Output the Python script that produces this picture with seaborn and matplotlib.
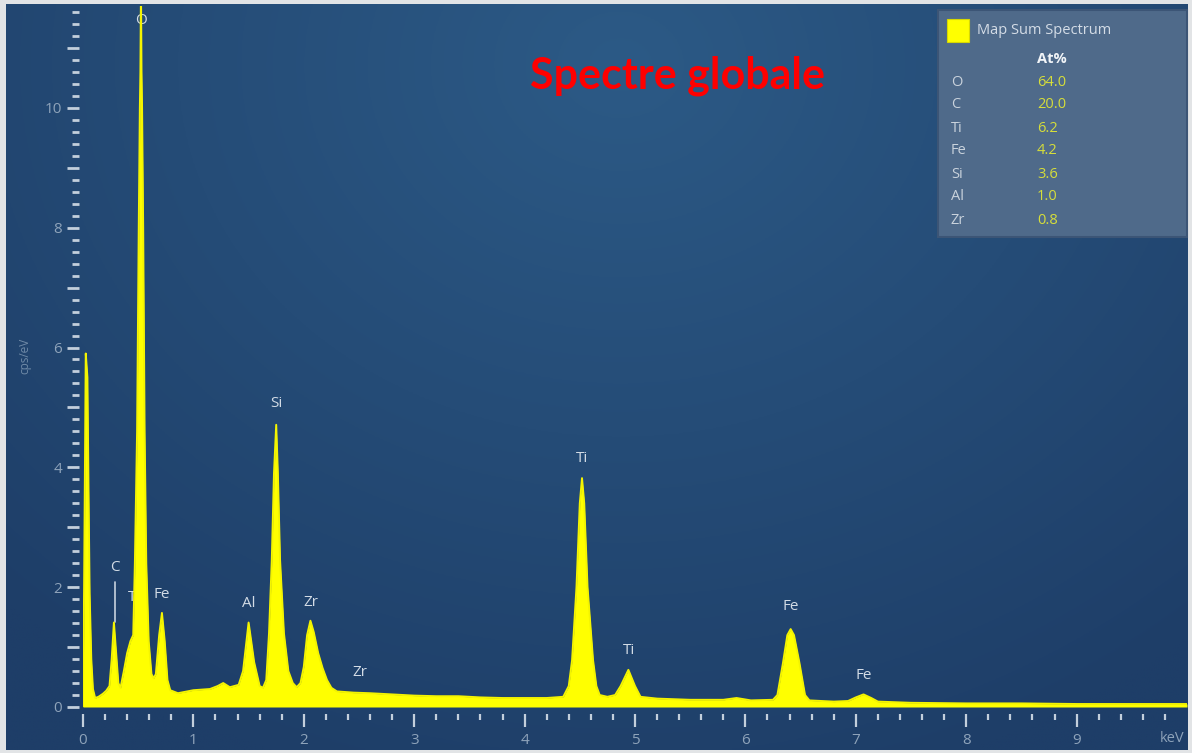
import numpy as np
import matplotlib
matplotlib.use("Agg")
import matplotlib.pyplot as plt
from matplotlib.patches import Rectangle
from matplotlib.ticker import FixedLocator, FuncFormatter
import seaborn as sns

# ---------------- data ----------------
energy_kev = [0.00, 0.01, 0.025, 0.04, 0.05, 0.06, 0.075, 0.09, 0.11, 0.14, 0.18, 0.21,
              0.24, 0.26, 0.28, 0.30, 0.32, 0.34, 0.37, 0.40, 0.43, 0.455, 0.47, 0.49,
              0.505, 0.515, 0.52, 0.525, 0.53, 0.535, 0.545, 0.558, 0.573, 0.595, 0.62,
              0.64, 0.66, 0.69, 0.715, 0.74, 0.765, 0.79, 0.86, 1.00, 1.15, 1.22, 1.27,
              1.33, 1.41, 1.45, 1.50, 1.55, 1.60, 1.63, 1.66, 1.685, 1.71, 1.73, 1.75,
              1.765, 1.785, 1.82, 1.86, 1.90, 1.935, 1.97, 2.00, 2.03, 2.06, 2.09, 2.13,
              2.17, 2.21, 2.25, 2.30, 2.45, 2.60, 2.80, 3.00, 3.20, 3.40, 3.60, 3.80,
              4.00, 4.20, 4.35, 4.40, 4.43, 4.47, 4.50, 4.52, 4.54, 4.57, 4.62, 4.65,
              4.68, 4.75, 4.82, 4.87, 4.94, 5.00, 5.05, 5.20, 5.50, 5.80, 5.92, 6.05,
              6.25, 6.29, 6.34, 6.38, 6.41, 6.44, 6.49, 6.54, 6.58, 6.80, 6.93, 7.00,
              7.07, 7.14, 7.20, 7.50, 8.00, 8.50, 9.00, 9.50, 10.00]
counts_cps_ev = [0.00, 2.0, 5.9, 5.5, 3.6, 1.9, 0.8, 0.30, 0.15, 0.17, 0.22, 0.27,
                 0.35, 0.80, 1.41, 0.90, 0.40, 0.32, 0.60, 0.90, 1.10, 1.20, 2.40, 4.60,
                 8.00, 10.0, 10.6, 12.0, 10.6, 10.0, 8.00, 4.60, 2.40, 1.10, 0.55,
                 0.48, 0.55, 1.20, 1.57, 1.10, 0.45, 0.28, 0.23, 0.28, 0.30, 0.35, 0.40,
                 0.33, 0.37, 0.60, 1.41, 0.75, 0.35, 0.32, 0.45, 1.23, 2.45, 3.90, 4.71,
                 3.90, 2.45, 1.23, 0.60, 0.40, 0.33, 0.40, 0.67, 1.20, 1.44, 1.25, 0.90,
                 0.65, 0.45, 0.32, 0.26, 0.24, 0.23, 0.21, 0.19, 0.18, 0.18, 0.16, 0.15,
                 0.15, 0.15, 0.17, 0.35, 0.78, 2.00, 3.40, 3.82, 3.40, 2.00, 0.78, 0.35,
                 0.20, 0.17, 0.20, 0.35, 0.62, 0.35, 0.17, 0.14, 0.12, 0.12, 0.15, 0.11,
                 0.12, 0.20, 0.73, 1.20, 1.30, 1.20, 0.73, 0.20, 0.11, 0.09, 0.10, 0.16,
                 0.21, 0.15, 0.09, 0.07, 0.06, 0.06, 0.05, 0.05, 0.05]

peak_labels = ["O", "C", "Ti", "Fe", "Al", "Si", "Zr", "Zr", "Ti", "Ti", "Fe", "Fe"]
peak_label_x = [0.525, 0.29, 0.46, 0.715, 1.50, 1.75, 2.06, 2.51, 4.52, 4.95, 6.41, 7.07]
peak_label_y = [11.45, 2.32, 1.82, 1.88, 1.72, 5.06, 1.74, 0.58, 4.15, 0.95, 1.67, 0.53]

legend_title = "Map Sum Spectrum"
legend_elements = ["O", "C", "Ti", "Fe", "Si", "Al", "Zr"]
legend_at_pct = [64.0, 20.0, 6.2, 4.2, 3.6, 1.0, 0.8]

x_major_ticks = [0, 1, 2, 3, 4, 5, 6, 7, 8, 9]
y_major_ticks = [0, 1, 2, 3, 4, 5, 6, 7, 8, 9, 10, 11]
y_labelled = [0, 2, 4, 6, 8, 10]

title_text = "Spectre globale"

# ---------------- figure ----------------
W, H = 1192, 753
sns.set_style("dark")
plt.rcParams["font.family"] = ["Open Sans", "DejaVu Sans"]

fig = plt.figure(figsize=(W / 100, H / 100), dpi=100, facecolor="#e2e4e6")


def fx(px):
    return px / W


def fy(py):
    return 1 - py / H


# background panel with soft gradient
bg = fig.add_axes([fx(6), fy(750), fx(1188) - fx(6), fy(4) - fy(750)])
bg.axis("off")
yy, xx = np.mgrid[0:1:300j, 0:1:500j]
d = np.sqrt(((xx - 0.52) / 0.75) ** 2 + ((yy - 0.08) / 1.0) ** 2)
d = np.clip(d, 0, 1)
c_center = np.array([44, 90, 134]) / 255
c_edge = np.array([30, 62, 104]) / 255
img = c_center[None, None, :] * (1 - d[..., None]) + c_edge[None, None, :] * d[..., None]
bg.imshow(img, aspect="auto", extent=[0, 1, 0, 1], origin="upper")

# main axes
ax = fig.add_axes([fx(83), fy(707), fx(1187) - fx(83), fy(6) - fy(707)])
ax.patch.set_alpha(0)
ax.set_xlim(0, 10)
ax.set_ylim(0, 11.7)

ax.fill_between(energy_kev, counts_cps_ev, 0, color="#ffff00", linewidth=0, zorder=3)
sns.lineplot(x=energy_kev, y=counts_cps_ev, ax=ax, color="#f4f400", linewidth=1.4,
             zorder=4, sort=False)

for sp in ax.spines.values():
    sp.set_visible(False)
ax.spines["left"].set_position(("outward", 3))
ax.spines["bottom"].set_position(("outward", 5))
ax.grid(False)

tick_col = "#c3cfdc"
lab_col = "#8ea3ba"
ax.xaxis.set_major_locator(FixedLocator(x_major_ticks))
ax.xaxis.set_minor_locator(FixedLocator([i * 0.2 for i in range(50) if i % 5 != 0]))
ax.yaxis.set_major_locator(FixedLocator(y_major_ticks))
ax.yaxis.set_minor_locator(FixedLocator([i * 0.2 for i in range(59) if i % 5 != 0]))
ax.yaxis.set_major_formatter(FuncFormatter(lambda v, p: f"{int(v)}" if int(v) in y_labelled else ""))
ax.xaxis.set_major_formatter(FuncFormatter(lambda v, p: f"{int(v)}"))

ax.tick_params(axis="both", which="both", bottom=True, left=True, top=False, right=False)
ax.tick_params(axis="both", which="major", direction="out", color=tick_col, labelcolor=lab_col,
               labelsize=11)
ax.tick_params(axis="y", which="major", length=9, width=2.0, pad=3)
ax.tick_params(axis="y", which="minor", direction="out", length=5, width=2.0, color=tick_col)
ax.tick_params(axis="x", which="major", length=9, width=1.6, pad=5)
ax.tick_params(axis="x", which="minor", direction="out", length=4.5, width=1.6, color=tick_col)
ax.set_xlabel("")
ax.set_ylabel("")

# peak labels (drawn under the spectrum, as in the reference)
for lab, lx, ly in zip(peak_labels, peak_label_x, peak_label_y):
    ax.text(lx, ly, lab, color="#d2dbe5", fontsize=11, ha="center", va="center", zorder=2)
# marker line from the C label to its peak
ax.plot([peak_label_x[1], peak_label_x[1]], [2.08, 1.42], color="#c8d2de", lw=1.2, zorder=2)

# axis annotation texts
fig.text(fx(1172), fy(739), "keV", color=lab_col, fontsize=10.5, ha="center", va="center")
fig.text(fx(25), fy(356), "cps/eV", color="#6f8aa7", fontsize=8.5, rotation=90,
         ha="center", va="center")

# title
fig.text(fx(678), fy(76), title_text, color="#ff0000", fontsize=31, fontweight="bold",
         family=["Lato", "DejaVu Sans"], ha="center", va="center")

# legend / results box
fig.add_artist(Rectangle((fx(938), fy(237)), fx(1187) - fx(938), fy(10) - fy(237),
                         transform=fig.transFigure, facecolor="#4f6a8a",
                         edgecolor="#3c5576", linewidth=1.5, zorder=5))
fig.add_artist(Rectangle((fx(947), fy(42)), fx(969) - fx(947), fy(19) - fy(42),
                         transform=fig.transFigure, facecolor="#ffff00",
                         edgecolor="#d8d800", linewidth=0.8, zorder=6))
fig.text(fx(977), fy(31), legend_title, color="#d4dce6", fontsize=10.5, ha="left",
         va="center", zorder=7)
fig.text(fx(1037), fy(59), "At%", color="#f2f5f8", fontsize=10.5, fontweight="bold",
         ha="left", va="center", zorder=7)
for i, (el, val) in enumerate(zip(legend_elements, legend_at_pct)):
    yrow = 82 + i * 23
    fig.text(fx(951), fy(yrow), el, color="#c9d2dc", fontsize=10.5, ha="left",
             va="center", zorder=7)
    fig.text(fx(1037), fy(yrow), f"{val:.1f}", color="#d6de3a", fontsize=10.5, ha="left",
             va="center", zorder=7)

fig.savefig("out.png", dpi=100, facecolor=fig.get_facecolor())
